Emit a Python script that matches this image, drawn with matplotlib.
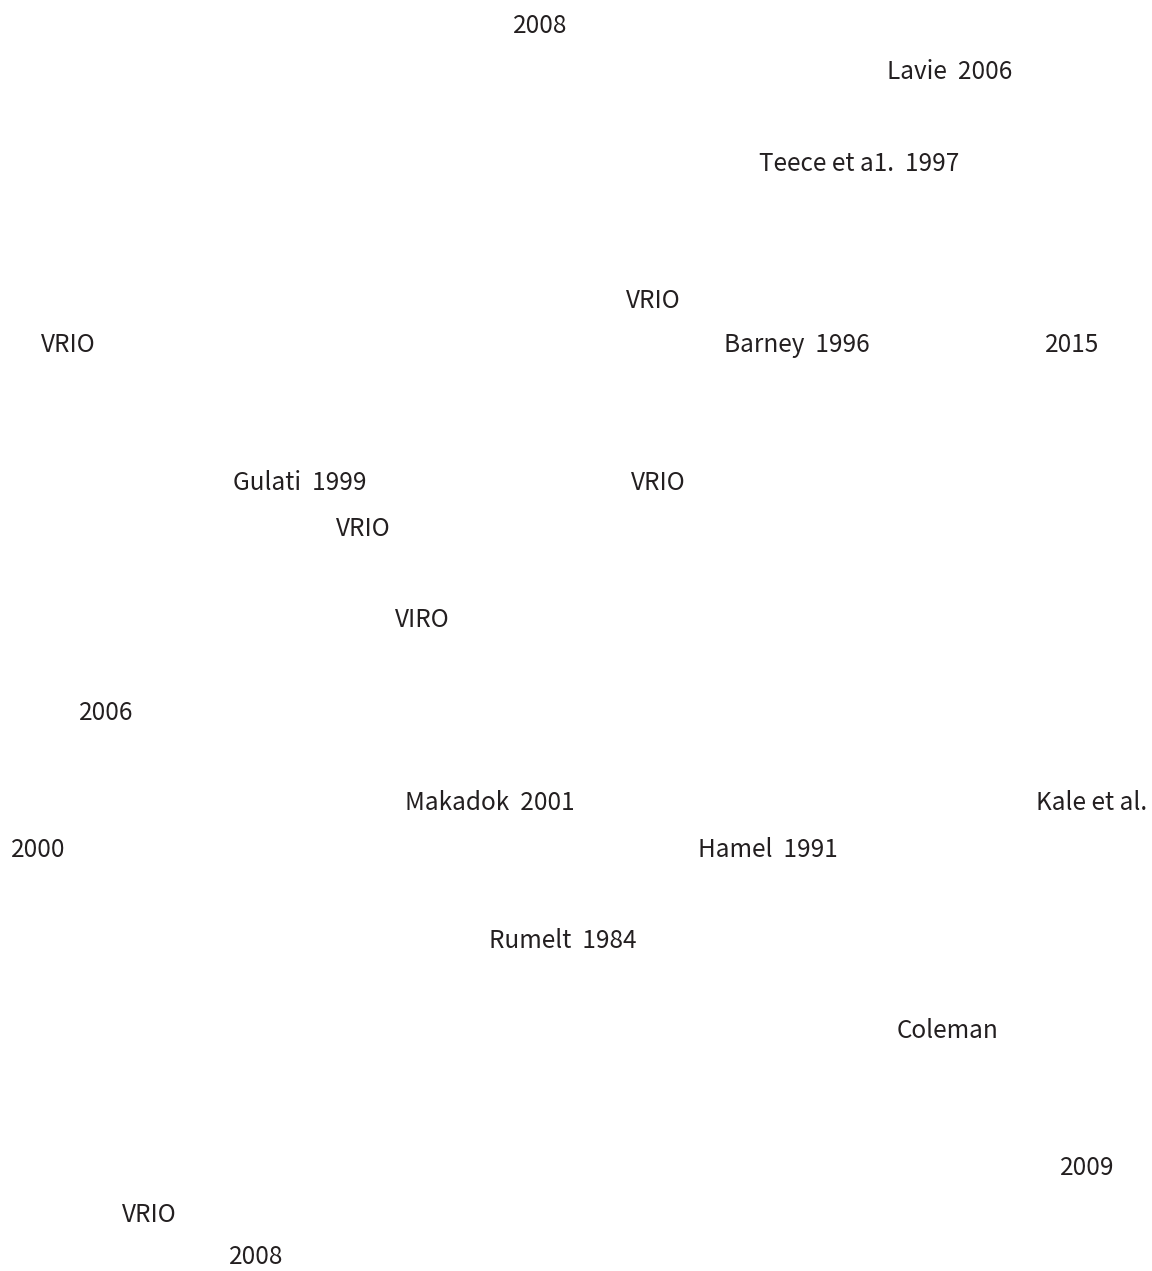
import matplotlib.pyplot as plt

# text fragments left on the page, in reading order
labels = [
    "2008",
    "Lavie  2006",
    "Teece et a1.  1997",
    "VRIO",
    "VRIO",
    "Barney  1996",
    "2015",
    "Gulati  1999",
    "VRIO",
    "VRIO",
    "VIRO",
    "2006",
    "Makadok  2001",
    "Kale et al.",
    "2000",
    "Hamel  1991",
    "Rumelt  1984",
    "Coleman",
    "2009",
    "VRIO",
    "2008",
]
# left edge and baseline of each fragment (page pixels)
left = [513, 887, 759, 626, 41, 724, 1045, 233, 631, 336, 395, 79, 405, 1036,
        11, 698, 489, 897, 1060, 122, 229]
base = [33, 79, 171, 308, 352, 352, 352, 490, 490, 536, 627, 720, 810, 810,
        857, 857, 948, 1038, 1175, 1222, 1264]

plt.rcParams["font.family"] = ["Noto Sans CJK JP", "DejaVu Sans"]

fig = plt.figure(figsize=(11.52, 12.71), dpi=100)
ax = fig.add_axes([0, 0, 1, 1])
ax.set_xlim(0, 1152)
ax.set_ylim(1271, 0)
ax.axis("off")

for lab, x, y in zip(labels, left, base):
    ax.text(x, y, lab, ha="left", va="baseline", fontsize=17.5, color="#231f20")

fig.savefig("out.png", dpi=100, facecolor="white")
